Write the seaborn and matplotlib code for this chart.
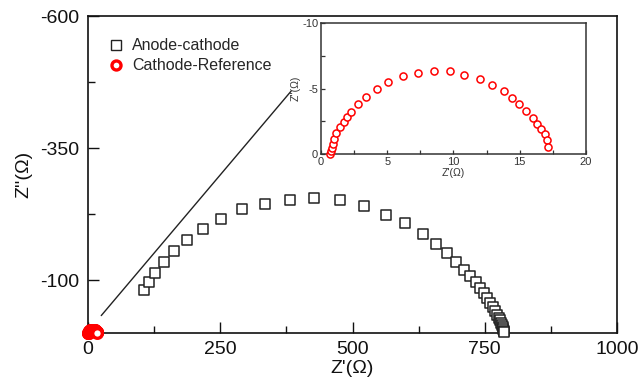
import matplotlib
matplotlib.use('Agg')
import matplotlib.pyplot as plt
import seaborn as sns
import pandas as pd
from matplotlib.lines import Line2D
from matplotlib.ticker import FixedLocator

sns.set_theme(style='white')
plt.rcParams['font.family'] = ['Liberation Sans', 'DejaVu Sans']
plt.rcParams['axes.unicode_minus'] = False

# ---------------- data ----------------
anode_x = [106, 115, 127, 144, 163, 187, 217, 252, 292, 335, 381, 428, 476, 522,
           563, 599, 633, 658, 679, 696, 711, 723, 733, 741, 748, 754, 760, 765,
           769, 773, 776, 779, 781, 783, 784, 785, 786, 786]
anode_y = [-82, -96, -114, -134, -155, -176, -197, -216, -234, -245, -252, -255,
           -252, -241, -224, -209, -188, -169, -151, -135, -119, -107, -96, -85,
           -75, -66, -57, -49, -42, -35, -29, -24, -19, -15, -11, -7, -4, -1]

cathode_x = [0.70, 0.75, 0.83, 0.91, 1.01, 1.16, 1.41, 1.71, 1.96, 2.26, 2.77,
             3.42, 4.20, 5.06, 6.16, 7.30, 8.55, 9.76, 10.82, 12.00, 12.91, 13.84,
             14.39, 14.97, 15.47, 16.00, 16.33, 16.60, 16.93, 17.06, 17.13]
cathode_y = [0.0, -0.20, -0.46, -0.79, -1.15, -1.60, -2.06, -2.42, -2.80, -3.21,
             -3.82, -4.35, -4.94, -5.52, -5.93, -6.18, -6.36, -6.31, -6.06, -5.75,
             -5.29, -4.78, -4.30, -3.84, -3.31, -2.77, -2.29, -1.88, -1.50, -1.04,
             -0.56]

guide_x = [25, 384]
guide_y = [-33, -458]

series_labels = ['Anode-cathode', 'Cathode-Reference']

main_xticks = [0, 250, 500, 750, 1000]
main_xminor = [125, 375, 625, 875]
main_yticks = [-600, -350, -100]
main_yminor = [-475, -225]
inset_xticks = [0, 5, 10, 15, 20]
inset_xminor = [2.5, 7.5, 12.5, 17.5]
inset_yticks = [-10, -5, 0]
inset_yminor = [-7.5, -2.5]

df_a = pd.DataFrame({'x': anode_x, 'y': anode_y})
df_c = pd.DataFrame({'x': cathode_x, 'y': cathode_y})

# ---------------- figure ----------------
fig = plt.figure(figsize=(6.43, 3.91), dpi=100)
fig.patch.set_facecolor('white')
ax = fig.add_axes([0.1369, 0.1483, 0.8227, 0.8107])

ax.plot(guide_x, guide_y, color='#222222', lw=1.0, zorder=2)

sns.scatterplot(data=df_a, x='x', y='y', marker='s', s=58, ax=ax,
                facecolor='white', edgecolor='#222222', linewidth=1.1,
                clip_on=False, zorder=3, legend=False)
sns.scatterplot(data=df_c, x='x', y='y', marker='o', s=48, ax=ax,
                facecolor='white', edgecolor='#ff0000', linewidth=2.4,
                clip_on=False, zorder=4, legend=False)
colls = ax.collections
colls[0].set_facecolor('white'); colls[0].set_edgecolor('#222222')
colls[1].set_facecolor('white'); colls[1].set_edgecolor('#ff0000')

ax.set_xlim(0, 1000)
ax.set_ylim(0, -600)
ax.xaxis.set_major_locator(FixedLocator(main_xticks))
ax.xaxis.set_minor_locator(FixedLocator(main_xminor))
ax.yaxis.set_major_locator(FixedLocator(main_yticks))
ax.yaxis.set_minor_locator(FixedLocator(main_yminor))
ax.tick_params(which='major', direction='in', length=8, width=1.0, colors='#111111',
               labelsize=14, pad=6)
ax.tick_params(which='minor', direction='in', length=5, width=1.0, colors='#111111')
ax.tick_params(axis='both', which='both', bottom=True, left=True, top=False, right=False)
for sp in ax.spines.values():
    sp.set_visible(True)
    sp.set_color('#111111')
    sp.set_linewidth(1.2)
ax.set_xlabel("Z'(Ω)", fontsize=14, labelpad=1, color='#111111')
ax.set_ylabel("Z''(Ω)", fontsize=14, labelpad=6, color='#111111')

handles = [
    Line2D([], [], linestyle='none', marker='s', ms=6.5, mfc='white', mec='#222222', mew=1.0),
    Line2D([], [], linestyle='none', marker='o', ms=6.5, mfc='white', mec='#ff0000', mew=2.4),
]
ax.legend(handles, series_labels, loc='upper left', bbox_to_anchor=(0.02, 0.96),
          frameon=False, fontsize=11.5, handlelength=1.0, handletextpad=0.5,
          labelspacing=0.32, borderaxespad=0.2)

# ---------------- inset ----------------
ins = fig.add_axes([0.4992, 0.6061, 0.4121, 0.335])
ins.set_facecolor('white')
sns.scatterplot(data=df_c, x='x', y='y', marker='o', s=26, ax=ins,
                facecolor='white', edgecolor='#ff0000', linewidth=1.1,
                clip_on=False, zorder=4, legend=False)
ins.collections[0].set_facecolor('white'); ins.collections[0].set_edgecolor('#ff0000')
ins.set_xlim(0, 20)
ins.set_ylim(0, -10)
ins.xaxis.set_major_locator(FixedLocator(inset_xticks))
ins.xaxis.set_minor_locator(FixedLocator(inset_xminor))
ins.yaxis.set_major_locator(FixedLocator(inset_yticks))
ins.yaxis.set_minor_locator(FixedLocator(inset_yminor))
ins.tick_params(which='both', direction='in', length=3, width=0.9, colors='#333333',
                labelsize=8, pad=2)
ins.tick_params(axis='both', which='both', bottom=True, left=True, top=False, right=False)
for sp in ins.spines.values():
    sp.set_visible(True)
    sp.set_color('#333333')
    sp.set_linewidth(1.1)
ins.set_xlabel("Z'(Ω)", fontsize=7.5, labelpad=1, color='#333333')
ins.set_ylabel("Z''(Ω)", fontsize=7.5, labelpad=1, color='#333333')

fig.savefig('out.png', dpi=100)
